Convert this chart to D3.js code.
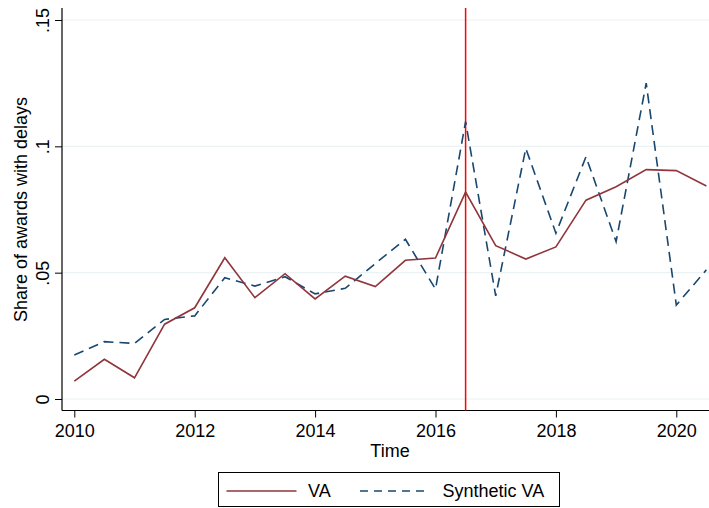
<!DOCTYPE html>
<html>
<head>
<meta charset="utf-8">
<script src="https://cdn.jsdelivr.net/npm/d3@7"></script>
<style>
  html, body { margin: 0; padding: 0; background: #fff; }
  svg { display: block; font-family: "Liberation Sans", Arial, Helvetica, sans-serif; }
</style>
</head>
<body>
<svg id="chart" width="709" height="508"></svg>
<script>
const time = [2010, 2010.5, 2011, 2011.5, 2012, 2012.5, 2013, 2013.5, 2014, 2014.5, 2015,
              2015.5, 2016, 2016.5, 2017, 2017.5, 2018, 2018.5, 2019, 2019.5, 2020, 2020.5];
const va = [0.0071, 0.0157, 0.0084, 0.0296, 0.0361, 0.0559, 0.0401, 0.0496, 0.0396, 0.0486, 0.0445,
            0.0549, 0.0558, 0.0819, 0.0607, 0.0554, 0.0602, 0.0787, 0.0840, 0.0908, 0.0904, 0.0843];
const synthVa = [0.0174, 0.0227, 0.0220, 0.0315, 0.0329, 0.0480, 0.0447, 0.0484, 0.0416, 0.0438, 0.0536,
                 0.0632, 0.0435, 0.1098, 0.0408, 0.0992, 0.0656, 0.0959, 0.0623, 0.1250, 0.0372, 0.0511];
const yTicks = [0, 0.05, 0.1, 0.15];
const yTickLabels = ["0", ".05", ".1", ".15"];
const xTicks = [2010, 2012, 2014, 2016, 2018, 2020];
const treatment = 2016.5;
const seriesNames = ["VA", "Synthetic VA"];

const svg = d3.select("#chart");
const axisX0 = 62, axisX1 = 709, axisY = 410.5, axisTop = 8;

const x = d3.scaleLinear().domain([2010, 2020]).range([74.3, 676.3]);
const y = d3.scaleLinear().domain([0, 0.15]).range([399, 20]);

const red = "#90353b", navy = "#1a476f";

// gridlines
svg.append("g").selectAll("line").data(yTicks).join("line")
  .attr("x1", axisX0).attr("x2", axisX1)
  .attr("y1", d => y(d)).attr("y2", d => y(d))
  .attr("stroke", "#eaf2f3").attr("stroke-width", 1.2);

// y axis
const yAxis = svg.append("g").attr("transform", `translate(${axisX0},0)`)
  .call(d3.axisLeft(y).tickValues(yTicks).tickFormat((d, i) => yTickLabels[i]).tickSize(7).tickPadding(6));
yAxis.select(".domain").remove();
yAxis.selectAll(".tick line").attr("stroke", "#000").attr("stroke-width", 1);
yAxis.selectAll(".tick text")
  .attr("font-size", 18).attr("fill", "#000")
  .attr("text-anchor", "middle")
  .attr("dy", 0)
  .attr("x", 0)
  .attr("transform", "translate(-13.5,0) rotate(-90)");
svg.append("line").attr("x1", axisX0).attr("x2", axisX0).attr("y1", axisTop).attr("y2", axisY)
  .attr("stroke", "#000").attr("stroke-width", 1.2);

// x axis
const xAxis = svg.append("g").attr("transform", `translate(0,${axisY})`)
  .call(d3.axisBottom(x).tickValues(xTicks).tickFormat(d3.format("d")).tickSize(7).tickPadding(7));
xAxis.select(".domain").remove();
xAxis.selectAll(".tick line").attr("stroke", "#000").attr("stroke-width", 1);
xAxis.selectAll(".tick text").attr("font-size", 18).attr("fill", "#000");
svg.append("line").attr("x1", axisX0).attr("x2", axisX1).attr("y1", axisY).attr("y2", axisY)
  .attr("stroke", "#000").attr("stroke-width", 1.2);

// axis titles
svg.append("text").attr("x", 390).attr("y", 457).attr("text-anchor", "middle")
  .attr("font-size", 18).text("Time");
svg.append("text").attr("transform", `translate(26.5,${(y(0) + y(0.15)) / 2}) rotate(-90)`)
  .attr("text-anchor", "middle").attr("font-size", 18).text("Share of awards with delays");

// treatment line
svg.append("line").attr("x1", x(treatment)).attr("x2", x(treatment))
  .attr("y1", axisTop).attr("y2", axisY)
  .attr("stroke", "#ff0000").attr("stroke-width", 1.5);

// series
const line = d3.line().x((d, i) => x(time[i])).y(d => y(d));
svg.append("path").datum(synthVa).attr("d", line)
  .attr("fill", "none").attr("stroke", navy).attr("stroke-width", 1.6)
  .attr("stroke-dasharray", "10,6");
svg.append("path").datum(va).attr("d", line)
  .attr("fill", "none").attr("stroke", red).attr("stroke-width", 1.6);

// legend
const lg = svg.append("g");
lg.append("rect").attr("x", 218.5).attr("y", 472.5).attr("width", 341).attr("height", 34)
  .attr("fill", "#fff").attr("stroke", "#000").attr("stroke-width", 1);
lg.append("line").attr("x1", 226.5).attr("x2", 296.5).attr("y1", 491).attr("y2", 491)
  .attr("stroke", red).attr("stroke-width", 1.6);
lg.append("text").attr("x", 308).attr("y", 497).attr("font-size", 18).text(seriesNames[0]);
lg.append("line").attr("x1", 360).attr("x2", 430).attr("y1", 491).attr("y2", 491)
  .attr("stroke", navy).attr("stroke-width", 1.6).attr("stroke-dasharray", "8,6");
lg.append("text").attr("x", 442.5).attr("y", 497).attr("font-size", 18).text(seriesNames[1]);
</script>
</body>
</html>
